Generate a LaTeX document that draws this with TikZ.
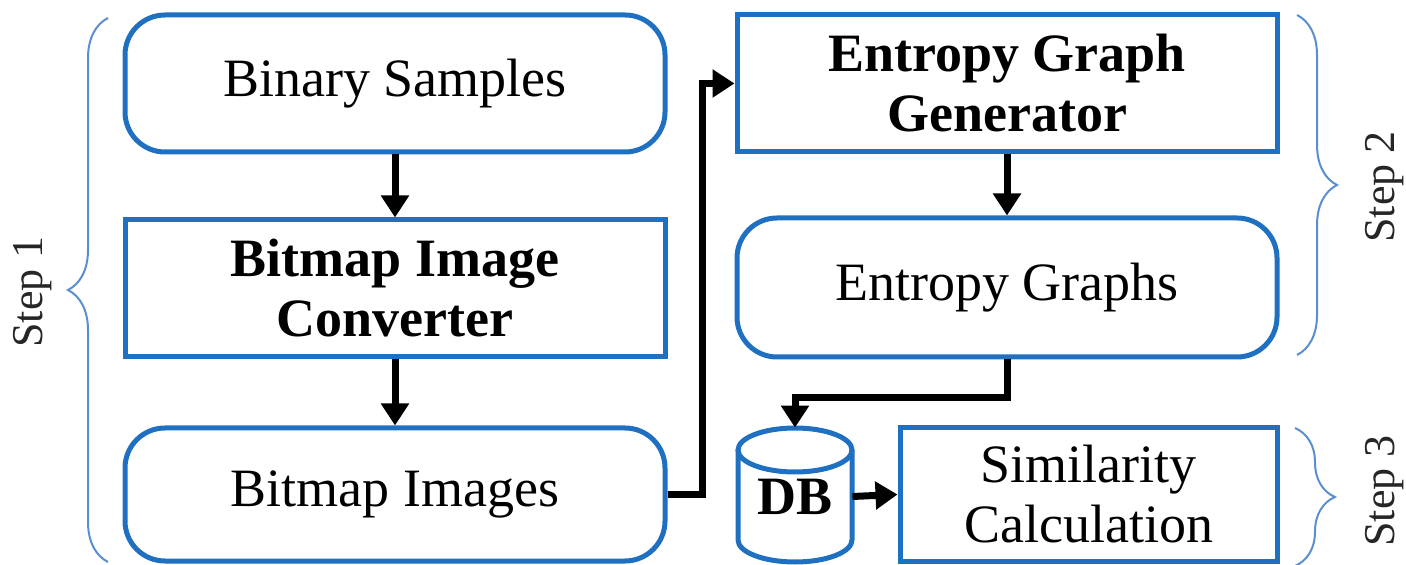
\documentclass[tikz,border=0pt]{standalone}
\usepackage{fontspec}
\setmainfont{Liberation Serif}
\usetikzlibrary{arrows.meta,decorations.pathreplacing,calc}
\definecolor{boxblue}{HTML}{1F70C1}
\definecolor{braceblue}{HTML}{5A8ED0}
\begin{document}
\begin{tikzpicture}[x=0.5pt,y=-0.5pt,
  box/.style={draw=boxblue,line width=2.5pt,minimum width=270pt,minimum height=68.5pt,align=center,inner sep=0pt,font=\fontsize{27}{30}\selectfont},
  rbox/.style={box,rounded corners=20pt},
  conn/.style={line width=3.5pt,-{Triangle[width=13.5pt,length=11pt]}},
  brc/.style={draw=braceblue,line width=1pt,decorate,decoration={brace,amplitude=#1}},
  steplbl/.style={rotate=90,font=\fontsize{22}{24}\selectfont,text=black!85,inner sep=0pt}
]
\useasboundingbox (0,0) rectangle (1406,565);

% left column
\node[rbox] (bs) at (395,83.5) {Binary Samples};
\node[box] (bic) at (395,288.5) {\textbf{Bitmap Image}\\\textbf{Converter}};
\node[rbox,minimum height=66.5pt] (bi) at (395,494.5) {Bitmap Images};

% right column
\node[box] (egg) at (1007,83.5) {\textbf{Entropy Graph}\\\textbf{Generator}};
\node[rbox,minimum height=69.5pt] (eg) at (1007,287.5) {Entropy Graphs};
\node[box,minimum width=188.5pt,minimum height=66.5pt] (sc) at (1088.5,494.5) {Similarity\\Calculation};

% database cylinder
\node[minimum width=57pt,minimum height=68.5pt,inner sep=0pt,font=\fontsize{27}{30}\selectfont\bfseries] (db) at (795,496.5) {DB};
\draw[boxblue,line width=2.5pt] (795,450) ellipse [x radius=28.5pt,y radius=11pt];
\draw[boxblue,line width=2.5pt] (738,450) -- (738,540) arc[start angle=180,end angle=360,x radius=28.5pt,y radius=11pt] -- (852,450);

% connectors
\draw[conn] (bs) -- (bic);
\draw[conn] (bic) -- (bi);
\draw[conn] (egg) -- (eg);
\draw[conn] (bi.east) -- ++(35,0) |- (egg.west);
\draw[conn] (eg.south) -- ++(0,38) -| (db.north);
\draw[conn] (db.east) -- (sc.west);

% braces
\draw[brc=20pt] (108,562) -- (108,18);
\draw[brc=20pt] (1297,15) -- (1297,355);
\draw[brc=20pt] (1295,428) -- (1295,566);

\node[steplbl] (s1) at (33,292) {Step 1};
\node[steplbl] (s2) at (1385,187) {Step 2};
\node[steplbl] (s3) at (1385,491) {Step 3};
\end{tikzpicture}
\end{document}
